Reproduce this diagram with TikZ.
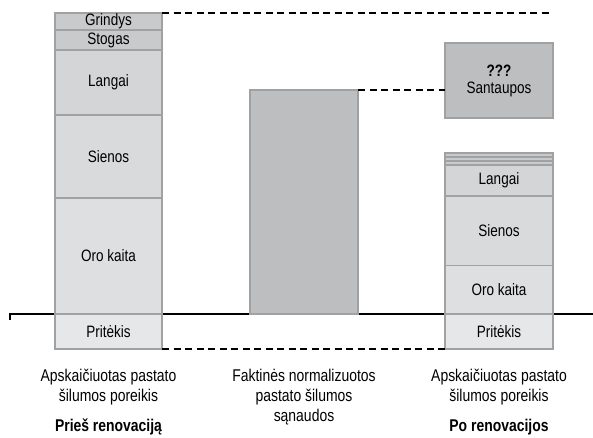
\documentclass[tikz,border=0pt]{standalone}
\usepackage{fontspec}
\setmainfont{Liberation Sans}[FakeStretch=0.82]
\definecolor{edge}{RGB}{160,161,163}
\definecolor{cTop}{RGB}{201,202,204}
\definecolor{cLang}{RGB}{212,213,215}
\definecolor{cSien}{RGB}{217,218,220}
\definecolor{cOro}{RGB}{222,223,225}
\definecolor{cPrit}{RGB}{230,231,232}
\definecolor{cBar}{RGB}{189,190,192}
\tikzset{
  seg/.style={draw=edge, line width=1.3pt, inner sep=0pt, outer sep=0pt,
    minimum width=107pt, font=\fontsize{16.5}{17}\selectfont},
  captext/.style={anchor=base, inner sep=0pt,
    font=\fontsize{17}{20}\selectfont},
  guide/.style={line width=1.4pt, dash pattern=on 7pt off 4.5pt},
}
\begin{document}
\begin{tikzpicture}[x=1pt, y=-1pt]
\useasboundingbox (0,0) rectangle (593,438);

% baseline axis with a small tick at its left end
\draw[line width=2pt] (10,320) -- (10,313.5) -- (593,313.5);

% stack before renovation
\node[seg, fill=cTop,  minimum height=17pt]  (lGr) at (108.5,21.5)  {Grindys};
\node[seg, fill=cTop,  minimum height=20pt]  (lSt) at (108.5,40)    {Stogas};
\node[seg, fill=cLang, minimum height=65pt]  (lLa) at (108.5,82.5)  {Langai};
\node[seg, fill=cSien, minimum height=83pt]  (lSi) at (108.5,156.5) {Sienos};
\node[seg, fill=cOro,  minimum height=116pt] (lOr) at (108.5,256)   {Oro kaita};
\node[seg, fill=cPrit, minimum height=35pt]  (lPr) at (108.5,331.5) {Pritėkis};

% measured consumption
\node[seg, fill=cBar, minimum width=108pt, minimum height=224pt] (mid) at (304,202) {};

% savings
\node[seg, fill=cBar, minimum width=108pt, minimum height=75pt, align=center] (sav) at (499,80.5)
  {\textbf{???}\\[0pt]Santaupos};

% stack after renovation
\node[seg, fill=cTop,  minimum width=108pt, minimum height=4pt]  (rS1) at (499,155)   {};
\node[seg, fill=cTop,  minimum width=108pt, minimum height=4pt]  (rS2) at (499,159)   {};
\node[seg, fill=cTop,  minimum width=108pt, minimum height=4pt]  (rS3) at (499,163)   {};
\node[seg, fill=cLang, minimum width=108pt, minimum height=31pt] (rLa) at (499,180.5) {Langai};
\node[seg, fill=cSien, minimum width=108pt, minimum height=70pt] (rSi) at (499,231)   {Sienos};
\node[seg, fill=cOro,  minimum width=108pt, minimum height=48pt] (rOr) at (499,289.5) {Oro kaita};
\node[seg, fill=cPrit, minimum width=108pt, minimum height=35pt] (rPr) at (499,331.5) {Pritėkis};

% dashed guide lines
\coordinate (topEnd) at (553,13);
\draw[guide] (lGr.north east) -- (topEnd);
\draw[guide] (mid.north east) -- (mid.north east -| sav.west);
\draw[guide] (lPr.south east) -- (rPr.south west);

% captions, one node per line
\node[captext] (capL1) at (108.5,381.5) {Apskaičiuotas pastato};
\node[captext] (capL2) at (108.5,401.5) {šilumos poreikis};
\node[captext, font=\fontsize{17}{20}\bfseries] (capLb) at (108.5,431.5) {Prieš renovaciją};
\node[captext] (capM1) at (304,381.5) {Faktinės normalizuotos};
\node[captext] (capM2) at (304,401.5) {pastato šilumos};
\node[captext] (capM3) at (304,421) {sąnaudos};
\node[captext] (capR1) at (499,381.5) {Apskaičiuotas pastato};
\node[captext] (capR2) at (499,401.5) {šilumos poreikis};
\node[captext, font=\fontsize{17}{20}\bfseries] (capRb) at (499,431.5) {Po renovacijos};
\end{tikzpicture}
\end{document}
